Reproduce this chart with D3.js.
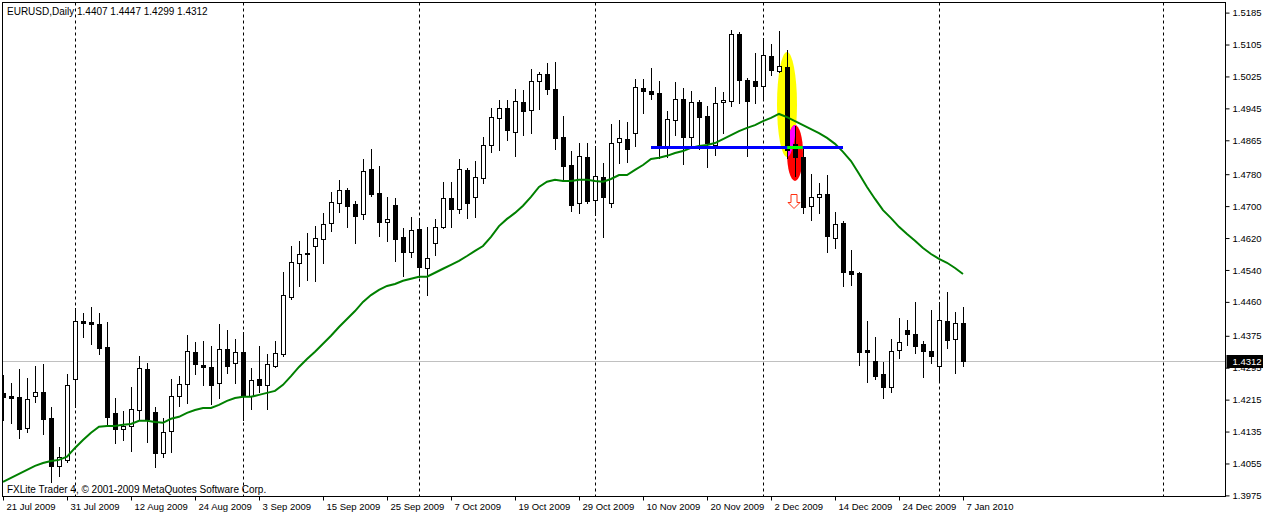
<!DOCTYPE html>
<html><head><meta charset="utf-8">
<script src="https://cdn.jsdelivr.net/npm/d3@7"></script>
<style>
body{margin:0;background:#fff}
svg{display:block}
text{font-family:"Liberation Sans",Arial,sans-serif}
</style>
</head><body>
<svg id="c" width="1263" height="514"></svg>
<script>
// ---------- DATA ----------
const dates = [
"2009-07-21","2009-07-22","2009-07-23","2009-07-24","2009-07-27","2009-07-28","2009-07-29","2009-07-30","2009-07-31",
"2009-08-03","2009-08-04","2009-08-05","2009-08-06","2009-08-07","2009-08-10","2009-08-11","2009-08-12","2009-08-13","2009-08-14",
"2009-08-17","2009-08-18","2009-08-19","2009-08-20","2009-08-21","2009-08-24","2009-08-25","2009-08-26","2009-08-27","2009-08-28","2009-08-31",
"2009-09-01","2009-09-02","2009-09-03","2009-09-04","2009-09-07","2009-09-08","2009-09-09","2009-09-10","2009-09-11","2009-09-14",
"2009-09-15","2009-09-16","2009-09-17","2009-09-18","2009-09-21","2009-09-22","2009-09-23","2009-09-24","2009-09-25","2009-09-28","2009-09-29","2009-09-30",
"2009-10-01","2009-10-02","2009-10-05","2009-10-06","2009-10-07","2009-10-08","2009-10-09","2009-10-12","2009-10-13","2009-10-14",
"2009-10-15","2009-10-16","2009-10-19","2009-10-20","2009-10-21","2009-10-22","2009-10-23","2009-10-26","2009-10-27","2009-10-28","2009-10-29","2009-10-30",
"2009-11-02","2009-11-03","2009-11-04","2009-11-05","2009-11-06","2009-11-09","2009-11-10","2009-11-11","2009-11-12","2009-11-13",
"2009-11-16","2009-11-17","2009-11-18","2009-11-19","2009-11-20","2009-11-23","2009-11-24","2009-11-25","2009-11-26","2009-11-27","2009-11-30",
"2009-12-01","2009-12-02","2009-12-03","2009-12-04","2009-12-07","2009-12-08","2009-12-09","2009-12-10","2009-12-11","2009-12-14",
"2009-12-15","2009-12-16","2009-12-17","2009-12-18","2009-12-21","2009-12-22","2009-12-23","2009-12-24","2009-12-28","2009-12-29","2009-12-30","2009-12-31",
"2010-01-04","2010-01-05","2010-01-06","2010-01-07"];

const open = [
1.4232,1.4224,1.4222,1.4144,1.4224,1.4234,1.4169,1.4049,1.4064,1.4267,
1.4412,1.4410,1.4405,1.4347,1.4182,1.4142,1.4149,1.4189,1.4292,1.4184,
1.4082,1.4137,1.4224,1.4254,1.4335,1.4302,1.4297,1.4257,1.4342,1.4307,
1.4335,1.4224,1.4267,1.4252,1.4300,1.4330,1.4472,1.4558,1.4583,1.4600,
1.4618,1.4658,1.4708,1.4741,1.4706,1.4680,1.4793,1.4733,1.4660,1.4703,
1.4623,1.4585,1.4643,1.4545,1.4608,1.4648,1.4721,1.4693,1.4791,1.4723,
1.4771,1.4853,1.4921,1.4946,1.4886,1.4961,1.4941,1.5014,1.5031,1.4994,
1.4873,1.4803,1.4708,1.4823,1.4716,1.4773,1.4708,1.4861,1.4868,1.4883,
1.4996,1.4989,1.4984,1.4848,1.4916,1.4969,1.4873,1.4961,1.4926,1.4853,
1.4961,1.4964,1.5132,1.5016,1.5014,1.5001,1.5076,1.5039,1.5049,1.4856,
1.4823,1.4701,1.4723,1.4731,1.4620,1.4658,1.4538,1.4533,1.4340,1.4312,
1.4280,1.4247,1.4340,1.4390,1.4380,1.4355,1.4337,1.4300,1.4412,1.4367,
1.4407];

const high = [
1.4277,1.4257,1.4292,1.4269,1.4300,1.4305,1.4197,1.4097,1.4280,1.4445,
1.4432,1.4447,1.4432,1.4410,1.4219,1.4187,1.4247,1.4325,1.4307,1.4197,
1.4169,1.4267,1.4274,1.4377,1.4360,1.4362,1.4350,1.4405,1.4390,1.4367,
1.4385,1.4295,1.4350,1.4330,1.4362,1.4535,1.4600,1.4613,1.4633,1.4650,
1.4683,1.4736,1.4766,1.4746,1.4713,1.4818,1.4843,1.4801,1.4723,1.4721,
1.4645,1.4673,1.4670,1.4648,1.4668,1.4761,1.4761,1.4818,1.4796,1.4813,
1.4873,1.4946,1.4966,1.4966,1.4994,1.4991,1.5044,1.5036,1.5059,1.5061,
1.4926,1.4838,1.4858,1.4858,1.4851,1.4808,1.4906,1.4916,1.4911,1.5019,
1.5019,1.5046,1.5014,1.4939,1.5011,1.4996,1.4989,1.4966,1.4951,1.4999,
1.4986,1.5142,1.5137,1.5021,1.5084,1.5121,1.5106,1.5139,1.5091,1.4901,
1.4848,1.4781,1.4758,1.4778,1.4685,1.4663,1.4590,1.4535,1.4412,1.4372,
1.4310,1.4367,1.4420,1.4415,1.4460,1.4362,1.4440,1.4460,1.4485,1.4435,
1.4447];

const low = [
1.4164,1.4157,1.4119,1.4134,1.4209,1.4129,1.4009,1.4024,1.4059,1.4197,
1.4372,1.4355,1.4330,1.4154,1.4107,1.4114,1.4086,1.4164,1.4109,1.4046,
1.4072,1.4084,1.4199,1.4207,1.4280,1.4252,1.4204,1.4219,1.4282,1.4257,
1.4164,1.4192,1.4234,1.4192,1.4297,1.4325,1.4467,1.4500,1.4515,1.4513,
1.4558,1.4638,1.4685,1.4648,1.4608,1.4668,1.4726,1.4625,1.4613,1.4563,
1.4525,1.4573,1.4523,1.4477,1.4578,1.4645,1.4648,1.4683,1.4670,1.4673,
1.4758,1.4836,1.4841,1.4866,1.4826,1.4878,1.4883,1.4944,1.4981,1.4843,
1.4768,1.4688,1.4683,1.4708,1.4678,1.4623,1.4698,1.4808,1.4811,1.4851,
1.4934,1.4969,1.4821,1.4823,1.4878,1.4806,1.4846,1.4843,1.4798,1.4828,
1.4883,1.4951,1.4959,1.4826,1.4959,1.4966,1.5029,1.5036,1.4821,1.4776,
1.4683,1.4665,1.4683,1.4585,1.4595,1.4500,1.4502,1.4302,1.4259,1.4267,
1.4219,1.4234,1.4320,1.4352,1.4332,1.4272,1.4307,1.4259,1.4345,1.4282,
1.4299];

const close = [
1.4222,1.4219,1.4142,1.4217,1.4234,1.4167,1.4049,1.4072,1.4252,1.4412,
1.4407,1.4405,1.4345,1.4172,1.4142,1.4149,1.4192,1.4295,1.4167,1.4082,
1.4134,1.4224,1.4254,1.4337,1.4305,1.4297,1.4252,1.4342,1.4300,1.4335,
1.4224,1.4264,1.4252,1.4305,1.4332,1.4477,1.4560,1.4580,1.4580,1.4620,
1.4655,1.4711,1.4741,1.4701,1.4675,1.4788,1.4731,1.4660,1.4668,1.4618,
1.4585,1.4640,1.4548,1.4570,1.4648,1.4721,1.4693,1.4793,1.4708,1.4773,
1.4853,1.4923,1.4946,1.4891,1.4964,1.4939,1.5014,1.5031,1.4994,1.4871,
1.4801,1.4703,1.4826,1.4713,1.4776,1.4723,1.4858,1.4871,1.4843,1.4999,
1.4989,1.4981,1.4848,1.4918,1.4969,1.4873,1.4961,1.4923,1.4858,1.4959,
1.4966,1.5132,1.5016,1.4964,1.5001,1.5079,1.5041,1.5051,1.4841,1.4823,
1.4698,1.4723,1.4731,1.4625,1.4655,1.4535,1.4530,1.4335,1.4335,1.4274,
1.4247,1.4337,1.4360,1.4380,1.4350,1.4337,1.4325,1.4415,1.4365,1.4407,
1.4312];

// moving average
const ma = [
1.4009,1.4019,1.4029,1.4039,1.4049,1.4056,1.4061,1.4064,1.4072,1.4094,
1.4114,1.4132,1.4147,1.4149,1.4149,1.4152,1.4154,1.4162,1.4162,1.4159,
1.4157,1.4167,1.4172,1.4182,1.4189,1.4194,1.4194,1.4202,1.4212,1.4219,
1.4222,1.4222,1.4227,1.4232,1.4237,1.4252,1.4274,1.4297,1.4317,1.4335,
1.4355,1.4375,1.4397,1.4417,1.4437,1.4460,1.4477,1.4490,1.4500,1.4505,
1.4513,1.4518,1.4523,1.4523,1.4533,1.4543,1.4553,1.4563,1.4575,1.4588,
1.4600,1.4623,1.4650,1.4668,1.4683,1.4701,1.4723,1.4748,1.4761,1.4766,
1.4763,1.4763,1.4766,1.4766,1.4763,1.4761,1.4768,1.4778,1.4778,1.4791,
1.4803,1.4818,1.4821,1.4826,1.4833,1.4838,1.4846,1.4851,1.4853,1.4858,
1.4868,1.4878,1.4888,1.4896,1.4903,1.4913,1.4921,1.4931,1.4923,1.4913,
1.4903,1.4893,1.4883,1.4871,1.4856,1.4836,1.4813,1.4781,1.4748,1.4718,
1.4690,1.4670,1.4648,1.4630,1.4613,1.4595,1.4580,1.4568,1.4558,1.4545,
1.4530];

const priceTickLabels = ["1.5185","1.5105","1.5025","1.4945","1.4865","1.4780","1.4700","1.4620",
  "1.4540","1.4460","1.4375","1.4295","1.4215","1.4135","1.4055","1.3975"];
const dateTickDates = ["2009-07-21","2009-07-31","2009-08-12","2009-08-24","2009-09-03","2009-09-15","2009-09-25",
  "2009-10-07","2009-10-19","2009-10-29","2009-11-10","2009-11-20","2009-12-02","2009-12-14","2009-12-24","2010-01-07"];
const dateTickLabels = ["21 Jul 2009","31 Jul 2009","12 Aug 2009","24 Aug 2009","3 Sep 2009","15 Sep 2009","25 Sep 2009",
  "7 Oct 2009","19 Oct 2009","29 Oct 2009","10 Nov 2009","20 Nov 2009","2 Dec 2009","14 Dec 2009","24 Dec 2009","7 Jan 2010"];
const separatorDates = ["2009-08-03","2009-09-01","2009-10-01","2009-11-02","2009-12-01","2010-01-04"];
const futureSeparatorBar = 145;   // separator drawn in the empty right area
const symbolTitle = "EURUSD,Daily";
const lastBarText = "1.4407 1.4447 1.4299 1.4312";
const lastPrice = 1.4312;
const copyright = "FXLite Trader 4, \u00A9 2001-2009 MetaQuotes Software Corp.";
// drawn objects
const supportLevel = 1.4847, supportFrom = "2009-11-11", supportTo = "2009-12-15";
const yellowEllipse = {date:"2009-12-04", halfBars:1.25, lo:1.4823, hi:1.5086};
const redEllipse    = {date:"2009-12-07", halfBars:1.0,  lo:1.4763, hi:1.4903};
const arrowMark     = {date:"2009-12-07", price:1.4730};

// ---------- DRAW ----------
const svg = d3.select("#c");
const PL = 2.5, PT = 2.5, PR = 1225.5, PB = 496.5;
const x = d3.scaleLinear().domain([0, dates.length - 1]).range([3, 963]);
const y = d3.scaleLinear().domain([1.3975, 1.5185]).range([495.4, 12.6]);
const idx = d => dates.indexOf(d);
const px = i => Math.round(x(i));

svg.append("rect").attr("width",1263).attr("height",514).attr("fill","#fff");
svg.append("defs").append("clipPath").attr("id","plot")
  .append("rect").attr("x",PL).attr("y",PT).attr("width",PR-PL).attr("height",PB-PT);
const g = svg.append("g").attr("clip-path","url(#plot)");

// current price line
g.append("line").attr("x1",PL).attr("x2",PR)
  .attr("y1",Math.round(y(lastPrice))+0.5).attr("y2",Math.round(y(lastPrice))+0.5)
  .attr("stroke","#c0c0c0");

// separators
const sepBars = separatorDates.map(idx).concat([futureSeparatorBar]);
g.selectAll("line.sep").data(sepBars).join("line").attr("class","sep")
  .attr("x1",d=>px(d)+0.5).attr("x2",d=>px(d)+0.5).attr("y1",PT).attr("y2",PB)
  .attr("stroke","#000").attr("stroke-dasharray","3,3");

// ellipses (background objects)
function ell(e){
  const i = idx(e.date);
  return {cx:x(i), rx:(x(i+e.halfBars)-x(i-e.halfBars))/2, cy:(y(e.lo)+y(e.hi))/2, ry:(y(e.lo)-y(e.hi))/2};
}
const ye = ell(yellowEllipse), re = ell(redEllipse);
svg.select("defs").append("clipPath").attr("id","yclip").append("ellipse")
  .attr("cx",ye.cx).attr("cy",ye.cy).attr("rx",ye.rx).attr("ry",ye.ry);
svg.select("defs").append("clipPath").attr("id","rclip").append("ellipse")
  .attr("cx",re.cx).attr("cy",re.cy).attr("rx",re.rx).attr("ry",re.ry);
g.append("ellipse").attr("cx",ye.cx).attr("cy",ye.cy).attr("rx",ye.rx).attr("ry",ye.ry).attr("fill","#ffff00");
g.append("ellipse").attr("cx",re.cx).attr("cy",re.cy).attr("rx",re.rx).attr("ry",re.ry).attr("fill","#ff0000");
g.append("g").attr("clip-path","url(#yclip)").append("ellipse")
  .attr("cx",re.cx).attr("cy",re.cy).attr("rx",re.rx).attr("ry",re.ry).attr("fill","#ff00ff");

// candles
const bars = dates.map((d,i)=>({i, o:open[i], h:high[i], l:low[i], c:close[i]}));
g.selectAll("line.wick").data(bars).join("line").attr("class","wick")
  .attr("x1",d=>px(d.i)+0.5).attr("x2",d=>px(d.i)+0.5)
  .attr("y1",d=>Math.round(y(d.h))).attr("y2",d=>Math.round(y(d.l))+1)
  .attr("stroke","#000");
g.selectAll("rect.body").data(bars).join("rect").attr("class","body")
  .attr("x",d=>px(d.i)-2+0.5).attr("width",4)
  .attr("y",d=>Math.round(y(Math.max(d.o,d.c)))+0.5)
  .attr("height",d=>Math.max(1, Math.round(y(Math.min(d.o,d.c))) - Math.round(y(Math.max(d.o,d.c)))))
  .attr("fill",d=>d.c>=d.o?"#fff":"#000").attr("stroke","#000");

// moving average
g.append("path").datum(ma)
  .attr("d", d3.line().x((v,i)=>x(i)).y(v=>y(v)))
  .attr("fill","none").attr("stroke","#008000").attr("stroke-width",2);

// support line
const sy = y(supportLevel);
g.append("line").attr("x1",x(idx(supportFrom))).attr("x2",x(idx(supportTo)))
  .attr("y1",sy).attr("y2",sy).attr("stroke","#0000ff").attr("stroke-width",3);
g.append("g").attr("clip-path","url(#rclip)").append("line")
  .attr("x1",x(idx(supportFrom))).attr("x2",x(idx(supportTo)))
  .attr("y1",sy).attr("y2",sy).attr("stroke","#00ff00").attr("stroke-width",3);

// arrow
const ax = px(idx(arrowMark.date)) - 1, at = Math.round(y(arrowMark.price)) + 0.5;
g.append("path")
  .attr("d",`M${ax-3},${at}L${ax+3},${at}L${ax+3},${at+8}L${ax+6},${at+8}L${ax},${at+14}L${ax-6},${at+8}L${ax-3},${at+8}Z`)
  .attr("fill","#fff").attr("stroke","#ff3010").attr("stroke-width",1);

// frame
svg.append("rect").attr("x",PL).attr("y",PT).attr("width",PR-PL).attr("height",PB-PT)
  .attr("fill","none").attr("stroke","#000");

// price axis
const yAxis = d3.axisRight(y).tickValues(priceTickLabels.map(Number))
  .tickFormat((d,k)=>priceTickLabels[k]).tickSize(4).tickPadding(3);
const gy = svg.append("g").attr("transform",`translate(${PR},0)`).call(yAxis);
gy.select(".domain").remove();
gy.selectAll(".tick line").attr("stroke","#000");
gy.selectAll("text").attr("font-family","Liberation Sans, Arial, sans-serif").attr("font-size",9.5).attr("fill","#000");

// date axis
const xAxis = d3.axisBottom(x).tickValues(dateTickDates.map(idx))
  .tickFormat((d,k)=>dateTickLabels[k]).tickSize(4).tickPadding(3);
const gx = svg.append("g").attr("transform",`translate(0,${PB})`).call(xAxis);
gx.select(".domain").remove();
gx.selectAll(".tick").attr("transform",d=>`translate(${px(d)+0.5},0)`);
gx.selectAll(".tick line").attr("stroke","#000");
gx.selectAll("text").attr("font-family","Liberation Sans, Arial, sans-serif").attr("font-size",9.5)
  .attr("fill","#000").attr("text-anchor","start").attr("x",3);

// current price label
const lpY = Math.round(y(lastPrice));
svg.append("rect").attr("x",PR+1).attr("y",lpY-6).attr("width",1263-PR-1).attr("height",13).attr("fill","#000");
svg.append("text").attr("x",PR+7).attr("y",lpY+4).attr("font-size",9.5).attr("fill","#fff").text(lastPrice.toFixed(4));

// titles
svg.append("text").attr("x",7).attr("y",15).attr("font-size",10).attr("fill","#000").text(symbolTitle);
svg.append("text").attr("x",77).attr("y",15).attr("font-size",10).attr("fill","#000").text(lastBarText);
svg.append("text").attr("x",7).attr("y",493).attr("font-size",10).attr("fill","#000").text(copyright);
</script>
</body></html>
